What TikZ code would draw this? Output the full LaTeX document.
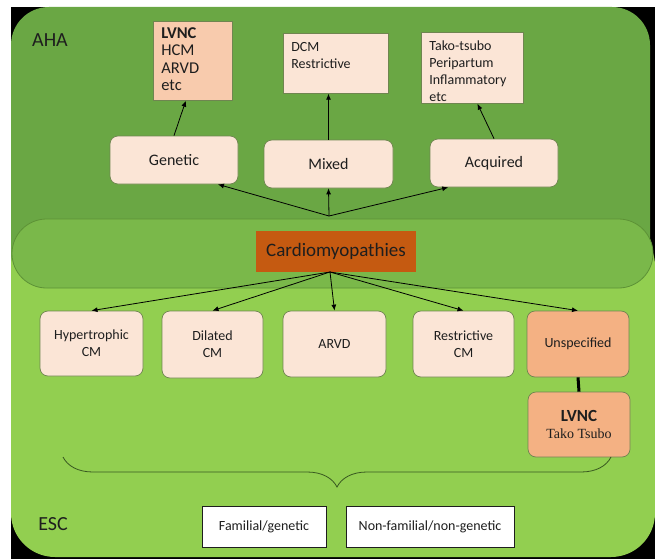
\documentclass[tikz,border=0pt]{standalone}
\usepackage{fontspec}
\setmainfont{Carlito}
\newfontfamily\timesfont{Liberation Serif}
\usetikzlibrary{arrows.meta,decorations.pathreplacing}
\definecolor{ahagreen}{HTML}{6AA744}
\definecolor{escgreen}{HTML}{92CF50}
\definecolor{midgreen}{HTML}{7AB84A}
\definecolor{rimgreen}{HTML}{5D9236}
\definecolor{boxfill}{HTML}{FBE5D6}
\definecolor{boxrim}{HTML}{6F8550}
\definecolor{peach}{HTML}{F8CBAD}
\definecolor{salmon}{HTML}{F4B183}
\definecolor{rust}{HTML}{C55A11}
\definecolor{ink}{HTML}{1E1E1E}

\begin{document}
\begin{tikzpicture}[x=1pt,y=-1pt,
  every node/.style={text=ink},
  listbox/.style={draw=boxrim,line width=0.7pt,inner xsep=8pt,inner ysep=0pt,anchor=north west,font=\fontsize{14}{17}\selectfont},
  classbox/.style={draw=boxrim,line width=0.7pt,fill=boxfill,rounded corners=8pt,inner sep=0pt,align=center,font=\fontsize{14}{17}\selectfont},
  groupbox/.style={draw=ink,line width=0.8pt,fill=white,inner sep=0pt,minimum height=41pt,font=\fontsize{14}{17}\selectfont},
  arr/.style={-{Latex[length=6pt,width=5pt]},line width=0.8pt}]
\useasboundingbox (0,0) rectangle (655,559);
\fill[black] (11,7) rectangle (655,559);
\fill[ahagreen,rounded corners=38pt] (11,7) rectangle (650,300);
\fill[escgreen,rounded corners=44pt] (11,222) rectangle (655,557);
\draw[fill=midgreen,draw=rimgreen,line width=0.8pt,rounded corners=34.5pt] (12,219) rectangle (653,288);

\node[font=\fontsize{20}{24}\selectfont] (aha) at (50,40) {AHA};
\node[font=\fontsize{20}{24}\selectfont] (esc) at (53,524) {ESC};

\node[listbox,fill=peach,font=\fontsize{16.5}{17.3}\selectfont] (lvnctop) at (153,21) {\parbox[c][79pt][t]{63pt}{\vspace*{5pt}\strut\textbf{LVNC}\\HCM\\ARVD\\etc}};
\node[listbox,fill=boxfill] (dcm) at (283,33) {\parbox[c][60pt][t]{89pt}{\vspace*{6pt}\strut DCM\\Restrictive}};
\node[listbox,fill=boxfill] (tako) at (421,32) {\parbox[c][71pt][t]{86pt}{\vspace*{6pt}\strut Tako-tsubo\\Peripartum\\Inflammatory\\etc}};

\node[classbox,font=\fontsize{16}{19}\selectfont,minimum width=128pt,minimum height=48pt] (genetic) at (174,160) {Genetic};
\node[classbox,font=\fontsize{16}{19}\selectfont,minimum width=129pt,minimum height=48pt] (mixed) at (328.5,164) {Mixed};
\node[classbox,font=\fontsize{16}{19}\selectfont,minimum width=128pt,minimum height=48pt] (acquired) at (494,163) {Acquired};

\node[fill=rust,minimum width=160pt,minimum height=41pt,inner sep=0pt,font=\fontsize{19}{21}\selectfont] (cardio) at (336,251.5) {Cardiomyopathies};

\node[classbox,minimum width=103pt,minimum height=65pt] (hyper) at (91.5,343.5) {Hypertrophic\\CM};
\node[classbox,minimum width=101pt,minimum height=67pt] (dilated) at (212.5,344.5) {Dilated\\CM};
\node[classbox,minimum width=103pt,minimum height=66pt] (arvd) at (334.5,344) {ARVD};
\node[classbox,minimum width=101pt,minimum height=66pt] (restr) at (463.5,344) {Restrictive\\CM};
\node[classbox,fill=salmon,minimum width=102pt,minimum height=66pt] (unspec) at (578,344) {Unspecified};
\node[classbox,fill=salmon,minimum width=102pt,minimum height=65pt] (lvncbot) at (579,424.5) {{\fontsize{17}{18}\selectfont\textbf{LVNC}}\\{\timesfont\fontsize{14}{16}\selectfont Tako Tsubo}};

\node[groupbox,minimum width=124pt] (familial) at (264,526.5) {Familial/genetic};
\node[groupbox,minimum width=168pt] (nonfam) at (430,526.5) {Non-familial/non-genetic};

\coordinate (fanup) at (329,216);
\coordinate (fanlow) at (330,272);
\draw[arr] (fanup) -- (genetic.-29);
\draw[arr] (fanup) -- (mixed.south);
\draw[arr] (fanup) -- (acquired.208);
\draw[arr] (genetic.north) -- (lvnctop.-100);
\draw[arr] (mixed.north) -- (mixed.north |- dcm.south);
\draw[arr] (acquired.north) -- (tako.-82);

\draw[arr] (fanlow) -- (hyper.north);
\draw[arr] (fanlow) -- (dilated.north);
\draw[arr] (fanlow) -- (arvd.north);
\draw[arr] (fanlow) -- (restr.north);
\draw[arr] (fanlow) -- (unspec.north);
\draw[line width=3pt] (unspec.south) -- (lvncbot.north);

\coordinate (braceR) at (611,457);
\coordinate (braceL) at (63,457);
\draw[rimgreen!60!black,line width=0.8pt,decorate,decoration={brace,amplitude=30pt}] (braceR) -- (braceL);
\end{tikzpicture}
\end{document}
